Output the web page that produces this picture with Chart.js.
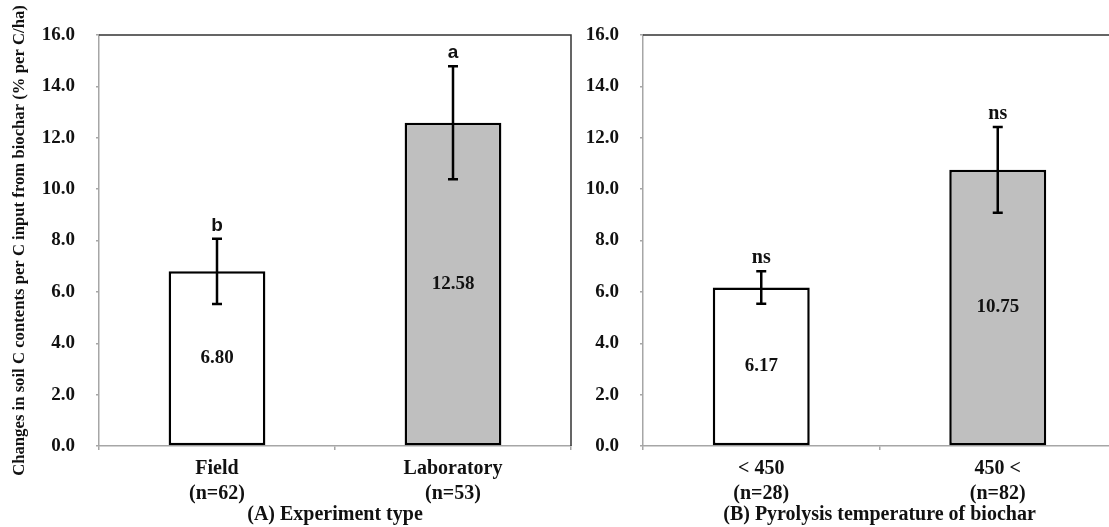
<!DOCTYPE html>
<html>
<head>
<meta charset="utf-8">
<script src="https://cdn.jsdelivr.net/npm/chart.js@4.4.0/dist/chart.umd.min.js"></script>
<style>
  html, body { margin: 0; padding: 0; background: #fff; overflow: hidden; width: 1109px; height: 527px; }
  #wrapA { position: absolute; left: 0; top: 0; width: 580px; height: 527px; }
  #wrapB { position: absolute; left: 580px; top: 0; width: 550px; height: 527px; }
</style>
</head>
<body>
<div id="wrapA"><canvas id="chartA"></canvas></div>
<div id="wrapB"><canvas id="chartB"></canvas></div>
<script>
// Panel A - experiment type
const labelsA = [['Field', '(n=62)'], ['Laboratory', '(n=53)']];
const meansA = [6.80, 12.58];
const errorsA = [1.27, 2.2];
const lettersA = ['b', 'a'];

// Panel B - pyrolysis temperature
const labelsB = [['< 450', '(n=28)'], ['450 <', '(n=82)']];
const meansB = [6.17, 10.75];
const errorsB = [0.63, 1.67];
const lettersB = ['ns', 'ns'];

const yMin = 0, yMax = 16, yStep = 2;
const barFills = ['#ffffff', '#bfbfbf'];

const textColor = '#111';
const axisColor = '#a6a6a6';
const serif = '"Liberation Serif", "Times New Roman", serif';

// error bars, letters, value labels, top/right frame
const annotatePlugin = {
  id: 'annotate',
  afterDatasetsDraw(chart, args, opts) {
    const ctx = chart.ctx;
    const yScale = chart.scales.y;
    const ds = chart.data.datasets[0];
    const meta = chart.getDatasetMeta(0);

    meta.data.forEach((bar, i) => {
      const v = ds.data[i];
      const e = opts.errors[i];
      const yTop = yScale.getPixelForValue(v + e);
      const yBot = yScale.getPixelForValue(v - e);

      ctx.save();
      ctx.strokeStyle = '#000';
      ctx.lineWidth = 2.5;
      ctx.beginPath();
      ctx.moveTo(bar.x, yTop); ctx.lineTo(bar.x, yBot);
      ctx.moveTo(bar.x - 5, yTop); ctx.lineTo(bar.x + 5, yTop);
      ctx.moveTo(bar.x - 5, yBot); ctx.lineTo(bar.x + 5, yBot);
      ctx.stroke();

      ctx.fillStyle = textColor;
      ctx.textAlign = 'center';
      ctx.textBaseline = 'middle';
      ctx.font = 'bold 19px ' + serif;
      ctx.fillText(v.toFixed(2), bar.x, (bar.y + bar.base) / 2);

      ctx.font = opts.letterFont;
      ctx.textBaseline = 'alphabetic';
      ctx.fillText(opts.letters[i], bar.x, yTop - 8);
      ctx.restore();
    });

    const a = chart.chartArea;
    ctx.save();
    ctx.strokeStyle = '#333';
    ctx.lineWidth = 1.5;
    ctx.beginPath();
    ctx.moveTo(a.left, a.top);
    ctx.lineTo(a.right, a.top);
    ctx.lineTo(a.right, a.bottom);
    ctx.stroke();
    ctx.restore();
  }
};

function buildChart(id, labels, means, errors, letters, letterFont, xTitle, yTitle, yWidth, padRight) {
  const ctx = document.getElementById(id).getContext('2d');
  return new Chart(ctx, {
    type: 'bar',
    data: {
      labels: labels,
      datasets: [{
        data: means,
        backgroundColor: barFills,
        borderColor: '#000',
        borderWidth: 2.5,
        borderSkipped: false,
        categoryPercentage: 1.0,
        barPercentage: 0.41
      }]
    },
    options: {
      responsive: true,
      maintainAspectRatio: false,
      animation: false,
      layout: { padding: { top: 35, right: padRight, left: 0, bottom: 0 } },
      plugins: {
        legend: { display: false },
        tooltip: { enabled: false },
        annotate: { errors: errors, letters: letters, letterFont: letterFont }
      },
      scales: {
        x: {
          grid: { display: true, offset: true, drawOnChartArea: false, drawTicks: true, tickLength: 4, color: axisColor, lineWidth: 1.5 },
          border: { color: axisColor, width: 1.5 },
          ticks: { color: textColor, font: { family: serif, weight: 'bold', size: 20, lineHeight: 1.25 }, padding: 6, maxRotation: 0 },
          title: { display: true, text: xTitle, color: textColor, font: { family: serif, weight: 'bold', size: 20, lineHeight: 1.2 }, padding: { top: 0, bottom: 0 } },
          afterFit(axis) { axis.height = 81; }
        },
        y: {
          min: yMin,
          max: yMax,
          grid: { drawOnChartArea: false, drawTicks: true, tickLength: 3, color: axisColor, lineWidth: 1.5 },
          border: { color: axisColor, width: 1.5 },
          ticks: {
            stepSize: yStep,
            color: textColor,
            padding: 21,
            font: { family: serif, weight: 'bold', size: 19 },
            callback: v => v.toFixed(1)
          },
          title: yTitle ? { display: true, text: yTitle, color: textColor, font: { family: serif, weight: 'bold', size: 16.7, lineHeight: 1.2 }, padding: { top: 10, bottom: 0 } } : { display: false },
          afterFit(axis) { axis.width = yWidth; }
        }
      }
    },
    plugins: [annotatePlugin]
  });
}

buildChart('chartA', labelsA, meansA, errorsA, lettersA,
  'bold 19px "Liberation Sans", Arial, sans-serif',
  '(A) Experiment type',
  'Changes in soil C contents per C input from biochar (% per C/ha)',
  99, 9);

buildChart('chartB', labelsB, meansB, errorsB, lettersB,
  'bold 20px ' + serif,
  '(B) Pyrolysis temperature of biochar',
  null,
  63, 14);
</script>
</body>
</html>
